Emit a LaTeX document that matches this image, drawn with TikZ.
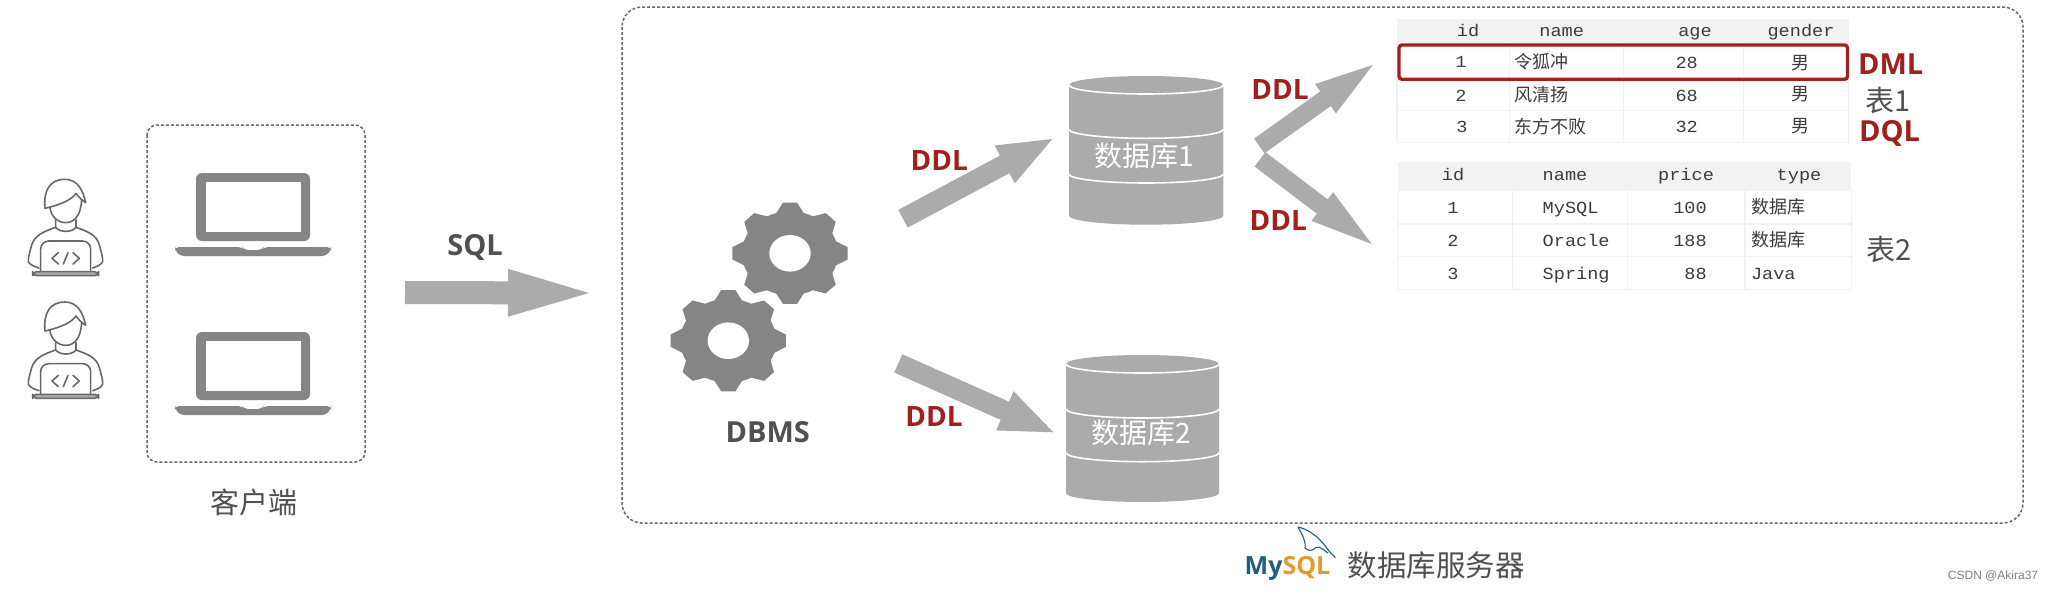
\documentclass[tikz,border=0pt]{standalone}
\usepackage{fontspec}
\setmainfont{Open Sans}
\setmonofont{Liberation Mono}[FakeStretch=1.1]
\newfontfamily\cjk{Noto Sans CJK SC}
\usetikzlibrary{calc}
\definecolor{arrowgray}{HTML}{ABABAB}
\definecolor{iconGray}{HTML}{858585}
\definecolor{lineGray}{HTML}{686868}
\definecolor{labelGray}{HTML}{505050}
\definecolor{ddlred}{HTML}{A3201A}
\definecolor{gridGray}{HTML}{F1F1F1}
\definecolor{headGray}{HTML}{F2F2F2}
\definecolor{cellInk}{HTML}{3C3C3C}
\definecolor{mysqlblue}{HTML}{1F5D82}
\definecolor{mysqlorange}{HTML}{E49B2C}
\newcommand{\px}[1]{\fontsize{\fpeval{#1/2}pt}{\fpeval{#1/2}pt}\selectfont}
\tikzset{
  txt/.style={inner sep=0pt,outer sep=0pt,anchor=center},
  boxdash/.style={draw=lineGray,line width=.75pt,dash pattern=on 1.5pt off 1pt},
  ddl/.style={txt,font=\px{28}\bfseries,text=ddlred},
  captxt/.style={txt,font=\cjk\px{29},text=labelGray},
  tbltxt/.style={txt,font=\cjk\px{29},text=labelGray},
  dbtext/.style={txt,font=\cjk\px{28},text=white},
  cell/.style={txt,font=\ttfamily\px{16.9},text=cellInk,text height=5.5pt,text depth=0pt},
  lcell/.style={cell,anchor=west},
  rcell/.style={cell,anchor=east},
  zh/.style={txt,font=\cjk\px{18},text=cellInk},
  lzh/.style={zh,anchor=west},
  tgrid/.style={draw=gridGray,line width=.6pt},
  laptop/.pic={
    \fill[iconGray,rounded corners=3pt] (196,241) -- (196,173) -- (310,173) -- (310,241) -- cycle;
    \fill[white] (206,182) rectangle (301,232);
    \fill[iconGray,rounded corners=2pt] (175,247) -- (242,247) -- (244,250) -- (262,250) -- (264,247) -- (331,247) -- (331,250) -- (326,256) -- (180,256) -- (175,250) -- cycle;
  },
  person/.pic={
    \begin{scope}[x=.16667pt,y=-.16667pt,draw=lineGray,line width=.8pt,line join=round,line cap=round]
      \draw (135,295) .. controls (130,240) and (150,208) .. (195,208) .. controls (235,208) and (250,245) .. (257,278) .. controls (245,270) and (235,260) .. (228,250) .. controls (215,268) and (190,282) .. (135,295) -- cycle;
      \draw (150,293) .. controls (152,320) and (175,338) .. (197,338) .. controls (222,338) and (243,318) .. (245,268);
      \draw (167,330) -- (167,352) .. controls (180,368) and (215,368) .. (228,352) -- (228,330);
      \draw (167,352) .. controls (130,365) and (105,375) .. (95,405) .. controls (88,430) and (84,445) .. (85,455) .. controls (90,465) and (105,470) .. (117,474);
      \draw (228,352) .. controls (265,365) and (290,375) .. (298,405) .. controls (305,430) and (309,445) .. (308,455) .. controls (303,465) and (290,470) .. (278,474);
      \draw[rounded corners=4pt] (122,485) -- (122,393) -- (272,393) -- (272,485);
      \draw[fill=arrowgray,rounded corners=2pt] (98,485) rectangle (296,497);
      \draw (175,428) -- (156,445) -- (175,462);
      \draw (190,462) -- (204,428);
      \draw (219,428) -- (238,445) -- (219,462);
    \end{scope}
  },
  gear/.pic={
    \fill[iconGray] (0,0) ellipse [x radius=48,y radius=42];
    \foreach \a in {0,45,...,315}{
      \fill[iconGray] (\a-18:47 and 41) -- (\a-7:58 and 51) -- (\a+7:58 and 51) -- (\a+18:47 and 41) -- cycle;
    }
    \fill[white] (0,0) ellipse [x radius=20.7,y radius=18.3];
  },
}
% block arrow between two named coordinates: from, to, half shaft, head length, half head
\newcommand{\blockarrow}[5]{%
  \coordinate (#2base) at ($(#2)!#4!(#1)$);
  \fill[arrowgray] ($(#1)!#3!90:(#2)$) -- ($(#2base)!#3!90:(#2)$) -- ($(#2base)!#5!90:(#2)$) -- (#2)
    -- ($(#2base)!#5!-90:(#2)$) -- ($(#2base)!#3!-90:(#2)$) -- ($(#1)!#3!-90:(#2)$) -- cycle;
}
\newcommand{\dbcyl}[6]{% left, right, top centre, band1, band2, bottom
  \pgfmathsetmacro{\dbrx}{(#2-#1)/2}
  \fill[arrowgray] (#1,#3) arc[start angle=180,end angle=360,x radius=\dbrx,y radius=9] -- (#2,#6) arc[start angle=0,end angle=180,x radius=\dbrx,y radius=9] -- cycle;
  \draw[white,line width=.8pt] (#1,#3) arc[start angle=180,end angle=0,x radius=\dbrx,y radius=9];
  \draw[white,line width=.8pt] (#1,#4) arc[start angle=180,end angle=0,x radius=\dbrx,y radius=9];
  \draw[white,line width=.8pt] (#1,#5) arc[start angle=180,end angle=0,x radius=\dbrx,y radius=9];
}
\begin{document}
\begin{tikzpicture}[x=.5pt,y=-.5pt]
\useasboundingbox (0,0) rectangle (2054,590);
\fill[white] (0,0) rectangle (2054,590);

% containers
\draw[boxdash,rounded corners=10pt] (622,7) rectangle (2023,523);
\draw[boxdash,rounded corners=5pt] (147,125) rectangle (365,462);

% people and laptops
\pic at (0,110) {person};
\pic at (0,232.67) {person};
\pic at (0,0) {laptop};
\pic at (0,159) {laptop};
\node[captxt] (client) at (254,502) {客户端};

% SQL arrow
\coordinate (sqlA) at (405,292.5);
\coordinate (sqlB) at (589,293);
\blockarrow{sqlA}{sqlB}{5.75pt}{40.5pt}{12pt}
\node[txt,font=\px{29}\bfseries,text=labelGray] (sql) at (475,247) {SQL};

% gears
\pic at (790,253.3) {gear};
\pic at (728.3,340.7) {gear};
\node[txt,font=\px{29}\bfseries,text=labelGray] (dbms) at (767.7,432) {DBMS};

% databases
\dbcyl{1069}{1223.3}{85}{129.3}{174}{215.7}
\node[dbtext] (db1) at (1144,156) {数据库1};
\dbcyl{1066}{1219}{364}{409}{452.7}{493}
\node[dbtext] (db2) at (1141,433) {数据库2};

% block arrows
\coordinate (aT) at (903,218.7);  \coordinate (aH) at (1052.3,139);
\coordinate (bT) at (898.3,363.4);\coordinate (bH) at (1053.3,432.3);
\coordinate (cT) at (1259.3,146); \coordinate (cH) at (1372.7,65);
\coordinate (dT) at (1260,159.3); \coordinate (dH) at (1371.7,244);
\blockarrow{aT}{aH}{5pt}{27pt}{10.75pt}
\blockarrow{bT}{bH}{5pt}{26.5pt}{10.75pt}
\blockarrow{cT}{cH}{4.5pt}{29pt}{9pt}
\blockarrow{dT}{dH}{4.5pt}{31pt}{9pt}
\node[ddl] (d1) at (939.3,160) {DDL};
\node[ddl] (d2) at (934,416.7) {DDL};
\node[ddl] (d3) at (1280,89.3) {DDL};
\node[ddl] (d4) at (1278.3,220) {DDL};

% table 1
\fill[headGray] (1397,19) rectangle (1848.6,43);
\foreach \y in {43,80,110.7,142.7} \draw[tgrid] (1397,\y) -- (1848.6,\y);
\foreach \x in {1397,1509.3,1623.3,1743.6,1848.6} \draw[tgrid] (\x,43) -- (\x,142.7);
\node[cell] (t1a) at (1468,31) {id};
\node[cell] (t1b) at (1561.7,31) {name};
\node[cell] (t1c) at (1695,31) {age};
\node[cell] (t1d) at (1801,31) {gender};
\node[cell] (r1a) at (1461,61.7) {1};
\node[lzh] (r1b) at (1514,62) {令狐冲};
\node[cell] (r1c) at (1686.7,63) {28};
\node[zh] (r1d) at (1800,63) {男};
\node[cell] (r2a) at (1461,95.7) {2};
\node[lzh] (r2b) at (1514,95) {风清扬};
\node[cell] (r2c) at (1686.7,96) {68};
\node[zh] (r2d) at (1800,94) {男};
\node[cell] (r3a) at (1462,127) {3};
\node[lzh] (r3b) at (1514,126.5) {东方不败};
\node[cell] (r3c) at (1686.7,127) {32};
\node[zh] (r3d) at (1800,126) {男};
\draw[ddlred,line width=1.65pt,rounded corners=1.5pt] (1399,45) rectangle (1847.5,79.3);
\node[txt,font=\px{29}\bfseries,text=ddlred] (dml) at (1890.7,64) {DML};
\node[tbltxt] (tb1) at (1888,100) {表1};
\node[txt,font=\px{29}\bfseries,text=ddlred] (dql) at (1889.6,133) {DQL};

% table 2
\fill[headGray] (1397.7,161.7) rectangle (1851.4,190.7);
\foreach \y in {190.7,224,256.7,289.3} \draw[tgrid] (1397.7,\y) -- (1851.4,\y);
\foreach \x in {1397.7,1512.3,1627.7,1745,1851.4} \draw[tgrid] (\x,190.7) -- (\x,289.3);
\node[cell] (t2a) at (1453,175) {id};
\node[cell] (t2b) at (1565,175) {name};
\node[cell] (t2c) at (1686,175) {price};
\node[cell] (t2d) at (1799,175) {type};
\node[cell] (s1a) at (1453,208.3) {1};
\node[lcell] (s1b) at (1542.7,208.3) {MySQL};
\node[rcell] (s1c) at (1706.7,208.3) {100};
\node[lzh] (s1d) at (1751,207) {数据库};
\node[cell] (s2a) at (1453,241) {2};
\node[lcell] (s2b) at (1542.7,241) {Oracle};
\node[rcell] (s2c) at (1706.7,241) {188};
\node[lzh] (s2d) at (1751,240) {数据库};
\node[cell] (s3a) at (1453,273.7) {3};
\node[lcell] (s3b) at (1542.7,273.7) {Spring};
\node[rcell] (s3c) at (1706.7,273.7) {88};
\node[lcell] (s3d) at (1751,273.7) {Java};
\node[tbltxt] (tb2) at (1889,249) {表2};

% MySQL logo and caption
\draw[mysqlblue,line width=.55pt,line join=round] (1298,527) .. controls (1312,530) and (1322,541) .. (1329,551) .. controls (1331,554) and (1335,556) .. (1335,558);
\draw[mysqlblue,line width=.55pt,line join=round] (1298,527) .. controls (1302,535) and (1306,540) .. (1305,548) .. controls (1308,551) and (1312,551) .. (1314,549) .. controls (1316,546) and (1319,546) .. (1328,553);
\node[txt,font=\px{25}\bfseries] (mysql) at (1287.5,568) {\textcolor{mysqlblue}{My}\textcolor{mysqlorange}{SQL}};
\node[captxt,font=\cjk\px{29.5}] (server) at (1436,565) {数据库服务器};

% watermark
\node[txt,font=\fontspec{Liberation Sans}\px{12},text=gray] (mark) at (1993,576) {CSDN @Akira37};
\end{tikzpicture}
\end{document}
